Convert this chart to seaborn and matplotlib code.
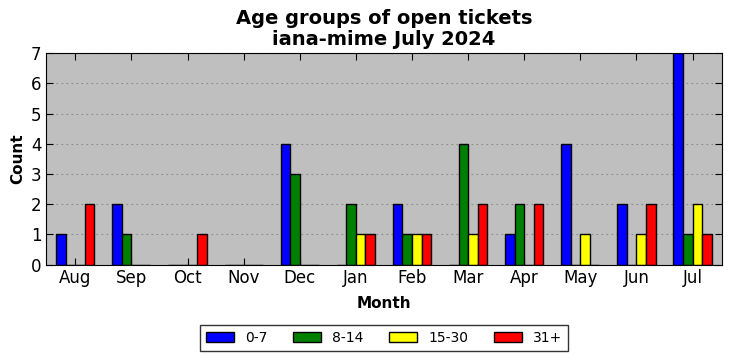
import numpy as np
import pandas as pd
import seaborn as sns
import matplotlib.pyplot as plt

months = ['Aug', 'Sep', 'Oct', 'Nov', 'Dec', 'Jan', 'Feb', 'Mar', 'Apr', 'May', 'Jun', 'Jul']
groups = ['0-7', '8-14', '15-30', '31+']
colors = ['blue', 'green', 'yellow', 'red']

age_0_7 = [1, 2, 0, 0, 4, 0, 2, 0, 1, 4, 2, 7]
age_8_14 = [0, 1, 0, 0, 3, 2, 1, 4, 2, 0, 0, 1]
age_15_30 = [0, 0, 0, 0, 0, 1, 1, 1, 0, 1, 1, 2]
age_31_plus = [2, 0, 1, 0, 0, 1, 1, 2, 2, 0, 2, 1]

rows = []
for g, vals in zip(groups, [age_0_7, age_8_14, age_15_30, age_31_plus]):
    for m, v in zip(months, vals):
        rows.append({'Month': m, 'Group': g, 'Count': v})
df = pd.DataFrame(rows)

sns.set_style('ticks')
plt.rcParams['font.family'] = ['DejaVu Sans']
plt.rcParams['text.color'] = 'black'
plt.rcParams['axes.labelcolor'] = 'black'
plt.rcParams['xtick.color'] = 'black'
plt.rcParams['ytick.color'] = 'black'

fig, ax = plt.subplots(figsize=(7.32, 3.61), dpi=100)
fig.subplots_adjust(left=0.063, right=0.986, top=0.853, bottom=0.267)

sns.barplot(data=df, x='Month', y='Count', hue='Group', order=months, hue_order=groups,
            palette=colors, width=0.68, edgecolor='black', linewidth=1, saturation=1,
            ax=ax, legend=False)

ax.set_facecolor('#bfbfbf')
ax.set_xlim(-0.52, 11.52)
ax.set_ylim(0, 7)
ax.set_yticks(range(0, 8))
ax.yaxis.grid(True, linestyle=(0, (1.5, 3)), color='#8a8a8a', linewidth=0.8)
ax.set_axisbelow(True)
ax.tick_params(axis='both', direction='in', top=True, right=True, labelsize=12, length=5)
for s in ax.spines.values():
    s.set_visible(True)
    s.set_color('black')
ax.set_xlabel('Month', fontsize=11, fontweight='bold', labelpad=6)
ax.set_ylabel('Count', fontsize=11, fontweight='bold')
ax.set_title('Age groups of open tickets\niana-mime July 2024', fontsize=14, fontweight='bold',
             linespacing=1.1)

handles = [plt.Rectangle((0, 0), 1, 1, facecolor=c, edgecolor='black') for c in colors]
fig.legend(handles, groups, loc='lower center', ncol=4, bbox_to_anchor=(0.525, 0.008),
           frameon=True, fancybox=False, edgecolor='black', fontsize=10,
           handlelength=2, columnspacing=1.85, borderpad=0.45)

fig.savefig('out.png', dpi=100)
